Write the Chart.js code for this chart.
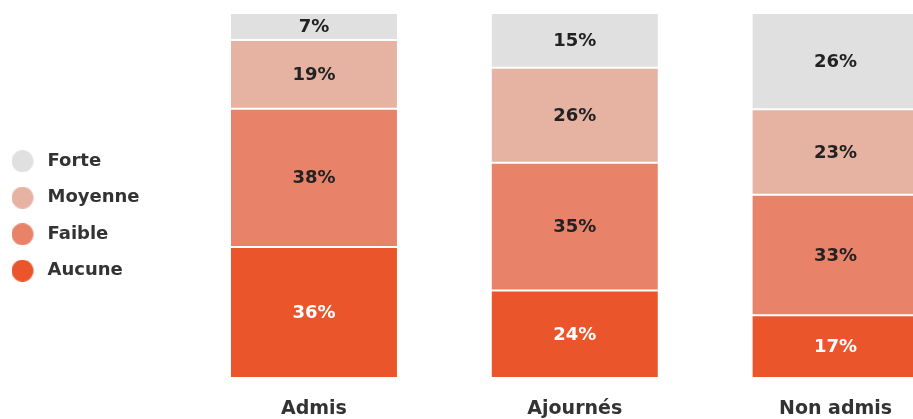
<!DOCTYPE html>
<html>
<head>
<meta charset="utf-8">
<script src="https://cdn.jsdelivr.net/npm/chart.js@4"></script>
<style>
  html, body { margin: 0; padding: 0; background: #fff; overflow: hidden; }
  #wrap { width: 970px; height: 419px; }
</style>
</head>
<body>
<div id="wrap"><canvas id="chart" width="970" height="419"></canvas></div>
<script>
// données (part de chaque niveau, en %)
const categories = ["Admis", "Ajournés", "Non admis"];
const aucune  = [35.9, 24, 17.2];
const faible  = [37.9, 35, 33.0];
const moyenne = [18.8, 26, 23.4];
const forte   = [7.4, 15, 26.4];

const colors = {
  aucune: "#EA552B",
  faible: "#E8836A",
  moyenne: "#E6B3A3",
  forte: "#E0E0E0"
};

const FONT = "'DejaVu Sans', sans-serif";

// pastille ronde pour la légende (décalée à gauche dans l'image)
function dot(color) {
  const c = document.createElement("canvas");
  c.width = 34; c.height = 22;
  const g = c.getContext("2d");
  g.fillStyle = color;
  g.beginPath();
  g.arc(11, 11, 11, 0, Math.PI * 2);
  g.fill();
  return c;
}

// étiquettes de valeur au centre de chaque segment
const valueLabels = {
  id: "valueLabels",
  afterDatasetsDraw(chart) {
    const ctx = chart.ctx;
    ctx.save();
    ctx.font = "bold 18px " + FONT;
    ctx.textAlign = "center";
    ctx.textBaseline = "middle";
    chart.data.datasets.forEach((ds, i) => {
      const meta = chart.getDatasetMeta(i);
      meta.data.forEach((bar, j) => {
        const v = ds.data[j];
        ctx.fillStyle = ds.labelColor;
        ctx.fillText(Math.round(v) + "%", bar.x, (bar.y + bar.base) / 2 + 1);
      });
    });
    ctx.restore();
  }
};

const mkSet = (label, data, color, labelColor) => ({
  label,
  data,
  backgroundColor: color,
  borderColor: "rgba(255,255,255,0.3)",
  borderWidth: 1,
  borderSkipped: false,
  labelColor,
  barPercentage: 0.644,
  categoryPercentage: 1
});

new Chart(document.getElementById("chart"), {
  type: "bar",
  data: {
    labels: categories,
    datasets: [
      mkSet("Aucune", aucune, colors.aucune, "#ffffff"),
      mkSet("Faible", faible, colors.faible, "#222222"),
      mkSet("Moyenne", moyenne, colors.moyenne, "#222222"),
      mkSet("Forte", forte, colors.forte, "#222222")
    ]
  },
  options: {
    responsive: false,
    animation: false,
    layout: { padding: { top: 13, bottom: 0, right: 4, left: 0 } },
    scales: {
      x: {
        stacked: true,
        grid: { display: false },
        border: { display: false },
        ticks: {
          color: "#333333",
          font: { family: FONT, size: 19, weight: "bold" },
          padding: 12
        },
        afterFit(scale) { scale.height = 41; }
      },
      y: {
        stacked: true,
        min: 0,
        max: 100,
        grid: { display: false },
        border: { display: false },
        ticks: { display: false },
        afterFit(scale) { scale.width = 34; }
      }
    },
    plugins: {
      tooltip: { enabled: false },
      legend: {
        position: "left",
        reverse: true,
        labels: {
          usePointStyle: true,
          pointStyleWidth: 20,
          padding: 18.5,
          color: "#333333",
          font: { family: FONT, size: 18, weight: "bold" },
          generateLabels(chart) {
            const items = Chart.defaults.plugins.legend.labels.generateLabels(chart);
            return items.map(it => {
              const ds = chart.data.datasets[it.datasetIndex];
              it.pointStyle = dot(ds.backgroundColor);
              return it;
            });
          }
        }
      }
    }
  },
  plugins: [valueLabels]
});
</script>
</body>
</html>
